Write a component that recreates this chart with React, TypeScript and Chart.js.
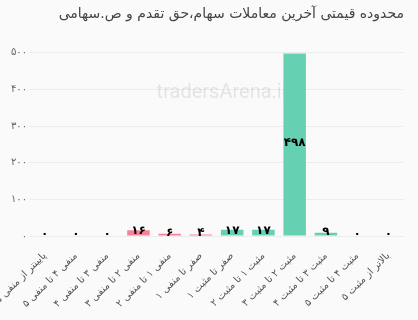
import React, { useEffect, useRef } from "react";
import { Chart, registerables } from "chart.js";

Chart.register(...registerables);

const title = "محدوده قیمتی آخرین معاملات سهام،حق تقدم و ص.سهامی";
const categories = [
  "پایینتر از منفی ۵",
  "منفی ۴ تا منفی ۵",
  "منفی ۳ تا منفی ۴",
  "منفی ۲ تا منفی ۳",
  "منفی ۱ تا منفی ۲",
  "صفر تا منفی ۱",
  "صفر تا مثبت ۱",
  "مثبت ۱ تا مثبت ۲",
  "مثبت ۲ تا مثبت ۳",
  "مثبت ۳ تا مثبت ۴",
  "مثبت ۴ تا مثبت ۵",
  "بالاتر از مثبت ۵",
];
const values = [0, 0, 0, 16, 6, 4, 17, 17, 498, 9, 0, 0];
const isNegative = [true, true, true, true, true, true, false, false, false, false, false, false];
const yMax = 500;
const yStep = 100;
const watermark = "tradersArena.ir";

const NEG = "#f7809b";
const POS = "#66d1b2";
const FONT = "'DejaVu Sans', sans-serif";

const fa = (v: number | string) =>
  String(v).replace(/\d/g, (d) => "۰۱۲۳۴۵۶۷۸۹"[Number(d)]);

const watermarkPlugin = {
  id: "watermark",
  beforeDatasetsDraw(chart: any) {
    const { ctx, chartArea } = chart;
    ctx.save();
    ctx.font = `20px Roboto, sans-serif`;
    ctx.fillStyle = "rgba(0,0,0,0.09)";
    ctx.textAlign = "center";
    ctx.textBaseline = "middle";
    const x = (chartArea.left + chartArea.right) / 2 + 6;
    const y = chartArea.top + (chartArea.bottom - chartArea.top) * 0.22;
    ctx.fillText(watermark, x, y);
    ctx.restore();
  },
};

const labelPlugin = {
  id: "barLabels",
  afterDatasetsDraw(chart: any) {
    const { ctx } = chart;
    const meta = chart.getDatasetMeta(0);
    ctx.save();
    ctx.font = `bold 12px ${FONT}`;
    ctx.fillStyle = "#000";
    ctx.textAlign = "center";
    ctx.textBaseline = "middle";
    meta.data.forEach((bar: any, i: number) => {
      const { x, y, base } = bar.getProps(["x", "y", "base"], true);
      ctx.fillText(fa(values[i]), x, (y + base) / 2 - 2);
    });
    ctx.restore();
  },
};

export default function App() {
  const ref = useRef<HTMLCanvasElement | null>(null);
  useEffect(() => {
    document.body.style.margin = "0";
    document.body.style.background = "#fafafa";
    const chart = new Chart(ref.current!, {
      type: "bar",
      data: {
        labels: categories,
        datasets: [
          {
            data: values,
            backgroundColor: isNegative.map((n) => (n ? NEG : POS)),
            borderWidth: 0,
          },
        ],
      },
      options: {
        animation: false,
        responsive: false,
        maintainAspectRatio: false,
        layout: { padding: { left: 9, right: 14, top: 4, bottom: 4 } },
        plugins: {
          legend: { display: false },
          tooltip: { enabled: false },
          title: {
            display: true,
            text: title,
            align: "end",
            color: "#444",
            font: { family: FONT, size: 14, weight: "normal" },
            padding: { top: 2, bottom: 30 },
          },
        },
        scales: {
          x: {
            grid: { display: false },
            border: { display: false },
            afterFit: (s: any) => {
              s.paddingLeft = 0;
            },
            ticks: {
              minRotation: 45,
              maxRotation: 45,
              autoSkip: false,
              color: "#555",
              font: { family: FONT, size: 10 },
              padding: 6,
            },
          },
          y: {
            min: 0,
            max: yMax,
            border: { display: false },
            grid: { color: "#ececec", drawTicks: false },
            ticks: {
              stepSize: yStep,
              color: "#666",
              font: { family: FONT, size: 10 },
              padding: 2,
              callback: (v: any) => fa(v),
            },
          },
        },
      },
      plugins: [watermarkPlugin, labelPlugin],
    });
    return () => chart.destroy();
  }, []);
  return (
    <div style={{ position: "fixed", left: 0, top: 0, width: 418, height: 320, background: "#fafafa" }}>
      <canvas ref={ref} width={418} height={320} style={{ width: 418, height: 320 }} />
    </div>
  );
}
